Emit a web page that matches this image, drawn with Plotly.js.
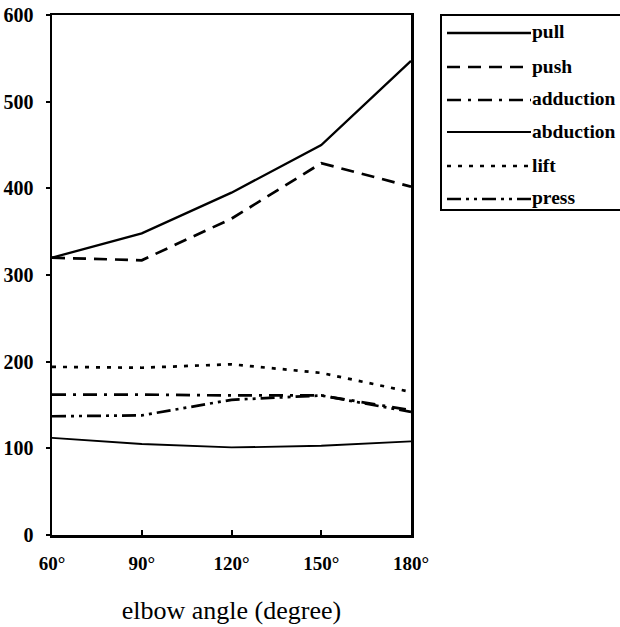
<!DOCTYPE html>
<html><head><meta charset="utf-8">
<script src="https://cdn.plot.ly/plotly-3.0.1.min.js"></script>
<style>html,body{margin:0;padding:0;background:#fff}#chart{width:620px;height:627px}</style>
</head><body><div id="chart"></div>
<script>
var angles = [60, 90, 120, 150, 180];
var angleLabels = ['60°', '90°', '120°', '150°', '180°'];
var yTicks = [0, 100, 200, 300, 400, 500, 600];
var seriesNames = ['pull', 'push', 'adduction', 'abduction', 'lift', 'press'];
var pull = [320, 348, 395, 450, 547];
var push = [320, 317, 365, 429, 402];
var adduction = [162, 162, 161, 161, 144];
var abduction = [112, 105, 101, 103, 108];
var lift = [194, 193, 197, 187, 165];
var press = [137, 138, 156, 161, 142];

var values = [pull, push, adduction, abduction, lift, press];
var dashes = ['solid', '13px,8px', '14px,7px,3px,7px', 'solid', '4px,7px', '14px,5px,3px,5px,3px,5px'];
var widths = [2.3, 2.7, 2.7, 1.8, 2.7, 2.7];

var traces = seriesNames.map(function (n, i) {
  return {x: angles, y: values[i], name: n, mode: 'lines', type: 'scatter',
    line: {color: '#000', width: widths[i], dash: dashes[i]}, showlegend: false, hoverinfo: 'skip'};
});

// custom legend (paper coords)
var W = 359, H = 520, L = 52, T = 15;
function px2x(p) { return (p - L) / W; }
function py2y(p) { return (T + H - p) / H; }
var shapes = [{type: 'rect', xref: 'paper', yref: 'paper', x0: px2x(441), x1: px2x(640), y0: py2y(210), y1: py2y(15),
  line: {color: '#000', width: 2}, fillcolor: 'rgba(0,0,0,0)'}];
var annotations = [];
var rowY = [33, 67, 100, 132, 166, 199];
seriesNames.forEach(function (n, i) {
  shapes.push({type: 'line', xref: 'paper', yref: 'paper', x0: px2x(447), x1: px2x(531), y0: py2y(rowY[i]), y1: py2y(rowY[i]),
    line: {color: '#000', width: i === 3 ? 2.2 : widths[i], dash: dashes[i]}});
  annotations.push({xref: 'paper', yref: 'paper', x: px2x(530), y: py2y(rowY[i] - 1), xanchor: 'left', yanchor: 'middle',
    text: n, showarrow: false, font: {family: 'Liberation Serif', size: 19.5, color: '#000', weight: 'bold'}});
});

var layout = {
  width: 620, height: 627,
  margin: {l: L, r: 620 - L - W, t: T, b: 627 - T - H},
  paper_bgcolor: '#fff', plot_bgcolor: '#fff',
  showlegend: false,
  xaxis: {range: [60, 180], tickvals: angles, ticktext: angleLabels, ticks: 'inside', ticklen: 5, tickwidth: 2, tickcolor: '#000',
    showgrid: false, zeroline: false, showline: true, mirror: true, linecolor: '#000', linewidth: 2.5,
    ticklabelstandoff: 10,
    tickfont: {family: 'Liberation Serif', size: 19, color: '#000', weight: 'bold'},
    title: {text: 'elbow angle (degree)', standoff: 28, font: {family: 'Liberation Serif', size: 26, color: '#000'}}},
  yaxis: {range: [0, 600], tickvals: yTicks, ticks: 'outside', ticklen: 4, tickwidth: 2, tickcolor: '#000',
    showgrid: false, zeroline: false, showline: true, mirror: true, linecolor: '#000', linewidth: 2.5,
    ticklabelstandoff: 8,
    tickfont: {family: 'Liberation Serif', size: 20, color: '#000', weight: 'bold'}},
  shapes: shapes, annotations: annotations
};
Plotly.newPlot('chart', traces, layout, {displayModeBar: false, staticPlot: true});
</script></body></html>
